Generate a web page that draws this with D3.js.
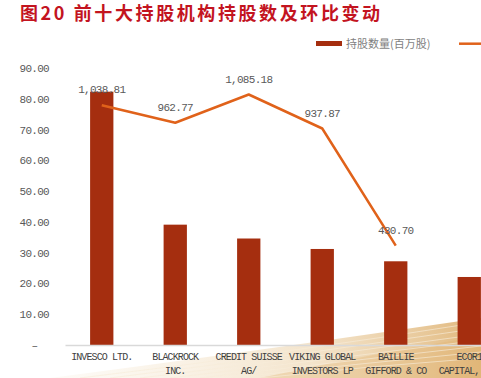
<!DOCTYPE html>
<html>
<head>
<meta charset="utf-8">
<script src="https://cdn.jsdelivr.net/npm/d3@7"></script>
<style>
  body { margin: 0; background: #fff; }
  text { font-family: "Liberation Mono", "DejaVu Sans Mono", monospace; }
</style>
</head>
<body>
<div id="chart-area"></div>
<script>
/* data */
const holders = ["INVESCO LTD.", "BLACKROCK|INC.", "CREDIT SUISSE|AG/", "VIKING GLOBAL|INVESTORS LP", "BAILLIE|GIFFORD & CO", "ECOR1|CAPITAL, LLC"]
const shares = [82.3, 39.1, 34.6, 31.2, 27.2, 22.1]          // 持股数量(百万股), left axis
const lineValues = [1038.81, 962.77, 1085.18, 937.87, 430.70] // line series, hidden right axis
const yTicks = [0, 10, 20, 30, 40, 50, 60, 70, 80, 90]

const WIDTH = 481
const HEIGHT = 378
const BASE = 345, TOP = 68, LEFT = 65, STEP = 73.5

const BAR_COLOR = "#a52e0f"
const LINE_COLOR = "#e0621a"

const svg = d3.select("#chart-area").append("svg")
  .attr("width", WIDTH)
  .attr("height", HEIGHT)

// background swoosh (watermark at the bottom right)
const defs = svg.append("defs")
const grad = defs.append("linearGradient").attr("id", "wm").attr("x1", "0").attr("x2", "1")
grad.append("stop").attr("offset", "0").attr("stop-color", "#f3e3c8").attr("stop-opacity", 0.15)
grad.append("stop").attr("offset", "0.6").attr("stop-color", "#e6c48e").attr("stop-opacity", 0.45)
grad.append("stop").attr("offset", "1").attr("stop-color", "#d9a55a").attr("stop-opacity", 0.8)

svg.append("path")
  .attr("d", "M50 378 Q 250 352 481 318 L 481 378 Z")
  .attr("fill", "url(#wm)")
svg.append("path")
  .attr("d", "M260 378 Q 370 354 481 336 L 481 378 Z")
  .attr("fill", "#e2b574").attr("opacity", 0.35)
for (let i = 0; i < 7; i++) {
  svg.append("path")
    .attr("d", `M${80 + i * 30} 378 Q ${280 + i * 15} ${354 + i * 2} 481 ${322 + i * 6}`)
    .attr("fill", "none")
    .attr("stroke", "#f7ecd9")
    .attr("stroke-width", 0.8)
    .attr("opacity", 0.8)
}

// title
svg.append("text")
  .attr("x", 20)
  .attr("y", 20)
  .style("font-family", "'Noto Sans CJK SC', sans-serif")
  .style("font-size", "18px")
  .style("font-weight", "bold")
  .style("letter-spacing", "2.6px")
  .attr("fill", "#c3141f")
  .text("图20 前十大持股机构持股数及环比变动")

// legend
svg.append("rect")
  .attr("x", 316).attr("y", 41)
  .attr("width", 26).attr("height", 5)
  .attr("fill", BAR_COLOR)
svg.append("text")
  .attr("x", 346).attr("y", 48)
  .style("font-family", "'Noto Sans CJK SC', sans-serif")
  .style("font-size", "11px")
  .attr("fill", "#7f7f7f")
  .text("持股数量(百万股)")
svg.append("line")
  .attr("x1", 459).attr("x2", 490)
  .attr("y1", 43.7).attr("y2", 43.7)
  .attr("stroke", LINE_COLOR)
  .attr("stroke-width", 2.5)

// scales
const x = d3.scaleBand()
  .domain(holders)
  .range([LEFT, LEFT + STEP * holders.length])
  .paddingInner(0.683)
  .paddingOuter(0.3415)
const y = d3.scaleLinear().domain([0, 90]).range([BASE, TOP])
const y2 = d3.scaleLinear().domain([0, 1200]).range([BASE, TOP])

// y axis
const yAxis = svg.append("g")
  .attr("transform", "translate(52, 0)")
  .call(d3.axisLeft(y).tickValues(yTicks).tickSize(0).tickPadding(3)
    .tickFormat(d => d === 0 ? "–" : d3.format(".2f")(d)))
yAxis.select(".domain").remove()
yAxis.selectAll("text")
  .style("font-size", "11px")
  .style("letter-spacing", "-0.7px")
  .attr("fill", "#595959")
yAxis.selectAll(".tick").filter(d => d === 0).select("text")
  .attr("text-anchor", "middle")
  .attr("x", -17.5)

// bars
svg.selectAll("rect.bar")
  .data(shares)
  .enter().append("rect")
  .attr("class", "bar")
  .attr("x", (d, i) => x(holders[i]))
  .attr("y", d => y(d))
  .attr("width", x.bandwidth())
  .attr("height", d => BASE - y(d))
  .attr("fill", BAR_COLOR)

// x axis
const xAxis = svg.append("g")
  .attr("transform", `translate(0, ${BASE})`)
  .call(d3.axisBottom(x).tickSize(0).tickFormat(""))
xAxis.select(".domain")
  .attr("stroke", "#d9d9d9")
  .attr("stroke-width", 1.5)

xAxis.selectAll(".tick text").each(function(d) {
  const t = d3.select(this).text(null).attr("y", 0).attr("dy", null)
  d.split("|").forEach((part, i) => {
    t.append("tspan")
      .attr("x", 0)
      .attr("y", 15 + i * 14)
      .text(part)
  })
})
xAxis.selectAll(".tick text")
  .style("font-size", "10px")
  .style("letter-spacing", "-0.9px")
  .attr("fill", "#404040")

// line
const cx = i => x(holders[i]) + x.bandwidth() / 2
const line = d3.line()
  .x((d, i) => cx(i))
  .y(d => y2(d))

svg.append("path")
  .datum(lineValues)
  .attr("d", line)
  .attr("fill", "none")
  .attr("stroke", LINE_COLOR)
  .attr("stroke-width", 2.5)
  .attr("stroke-linejoin", "round")

// line labels
svg.selectAll("text.lbl")
  .data(lineValues)
  .enter().append("text")
  .attr("class", "lbl")
  .attr("x", (d, i) => cx(i))
  .attr("y", d => y2(d) - 12)
  .attr("text-anchor", "middle")
  .style("font-size", "11px")
  .style("letter-spacing", "-0.7px")
  .attr("fill", "#595959")
  .text(d => d3.format(",.2f")(d))
</script>
</body>
</html>
